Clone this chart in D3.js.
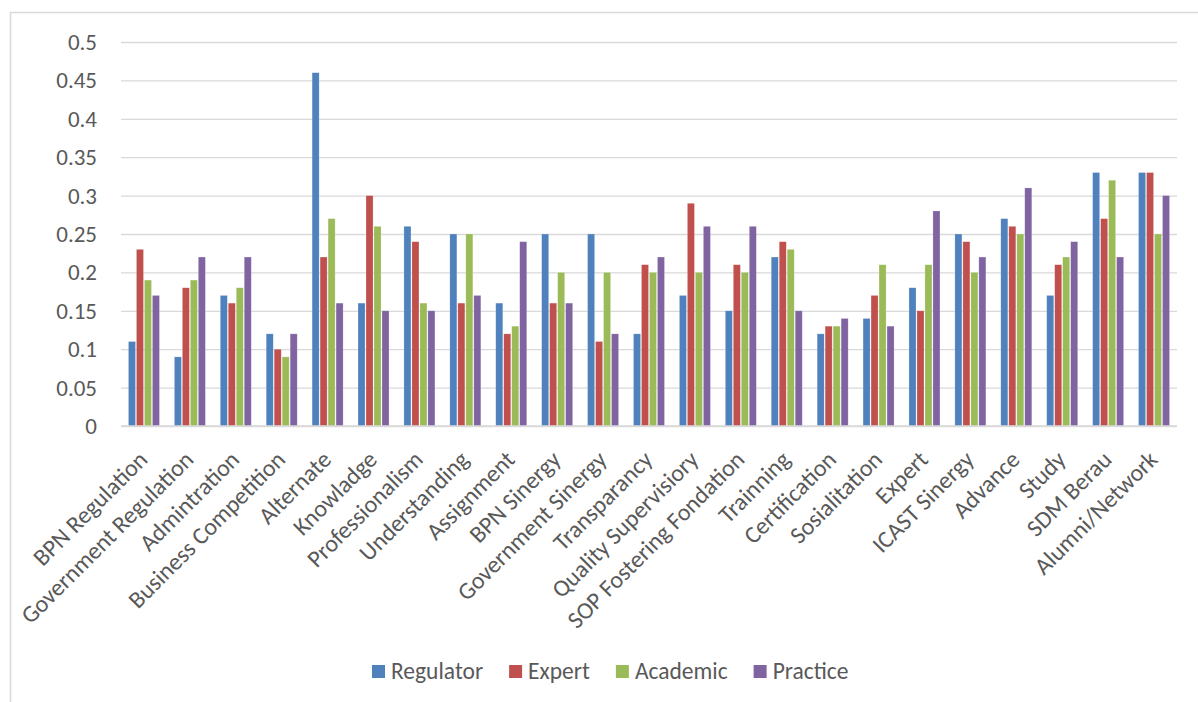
<!DOCTYPE html>
<html>
<head>
<meta charset="utf-8">
<script src="https://cdn.jsdelivr.net/npm/d3@7"></script>
<style>
  html, body { margin: 0; padding: 0; background: #fff; }
  svg { display: block; }
  text { font-family: Carlito, Lato, "Open Sans", sans-serif; fill: #595959; }
</style>
</head>
<body>
<svg id="chart" width="1198" height="702"></svg>
<script>
const categories = ["BPN Regulation", "Government Regulation", "Admintration", "Business Competition",
  "Alternate", "Knowladge", "Professionalism", "Understanding", "Assignment", "BPN Sinergy",
  "Government Sinergy", "Transparancy", "Quality Supervisiory", "SOP Fostering Fondation",
  "Trainning", "Certification", "Sosialitation", "Expert", "ICAST Sinergy", "Advance",
  "Study", "SDM Berau", "Alumni/Network"];
const seriesNames = ["Regulator", "Expert", "Academic", "Practice"];
const regulator = [0.11, 0.09, 0.17, 0.12, 0.46, 0.16, 0.26, 0.25, 0.16, 0.25, 0.25, 0.12, 0.17, 0.15, 0.22, 0.12, 0.14, 0.18, 0.25, 0.27, 0.17, 0.33, 0.33];
const expert    = [0.23, 0.18, 0.16, 0.10, 0.22, 0.30, 0.24, 0.16, 0.12, 0.16, 0.11, 0.21, 0.29, 0.21, 0.24, 0.13, 0.17, 0.15, 0.24, 0.26, 0.21, 0.27, 0.33];
const academic  = [0.19, 0.19, 0.18, 0.09, 0.27, 0.26, 0.16, 0.25, 0.13, 0.20, 0.20, 0.20, 0.20, 0.20, 0.23, 0.13, 0.21, 0.21, 0.20, 0.25, 0.22, 0.32, 0.25];
const practice  = [0.17, 0.22, 0.22, 0.12, 0.16, 0.15, 0.15, 0.17, 0.24, 0.16, 0.12, 0.22, 0.26, 0.26, 0.15, 0.14, 0.13, 0.28, 0.22, 0.31, 0.24, 0.22, 0.30];
const yTicks = [0, 0.05, 0.1, 0.15, 0.2, 0.25, 0.3, 0.35, 0.4, 0.45, 0.5];
const colors = ["#4F81BD", "#C0504D", "#9BBB59", "#8064A2"];

const seriesValues = [regulator, expert, academic, practice];
const rows = categories.map((c, i) => ({
  category: c,
  values: seriesNames.map((s, j) => ({ series: s, value: seriesValues[j][i] }))
}));

const svg = d3.select("#chart");
const plot = { left: 121, right: 1177, top: 42, bottom: 426 };

// outer frame (top and left edges visible)
svg.append("line").attr("x1", 10).attr("x2", 1198).attr("y1", 12.5).attr("y2", 12.5)
  .attr("stroke", "#d9d9d9").attr("stroke-width", 1.5);
svg.append("line").attr("x1", 10.5).attr("x2", 10.5).attr("y1", 12).attr("y2", 702)
  .attr("stroke", "#d9d9d9").attr("stroke-width", 1.5);

const x0 = d3.scaleBand().domain(categories).range([plot.left, plot.right])
  .paddingInner(0.325).paddingOuter(0.1625);
const x1 = d3.scaleBand().domain(seriesNames).range([0, x0.bandwidth()]).paddingInner(0.12);
const y = d3.scaleLinear().domain([0, 0.5]).range([plot.bottom, plot.top]);
const color = d3.scaleOrdinal().domain(seriesNames).range(colors);

// gridlines
const yAxis = d3.axisLeft(y).tickValues(yTicks).tickSize(-(plot.right - plot.left))
  .tickPadding(24).tickFormat(d => d3.format("")(+d.toFixed(2)));
const gy = svg.append("g").attr("transform", `translate(${plot.left},0)`).call(yAxis);
gy.select(".domain").remove();
gy.selectAll(".tick line").attr("stroke", "#d9d9d9").attr("stroke-width", 1.3);
gy.selectAll(".tick text").attr("font-size", 23).attr("fill", "#595959").attr("dy", "0.33em");

// bars
const groups = svg.append("g").selectAll("g").data(rows).join("g")
  .attr("transform", d => `translate(${x0(d.category)},0)`);
groups.selectAll("rect").data(d => d.values).join("rect")
  .attr("x", d => x1(d.series))
  .attr("y", d => y(d.value))
  .attr("width", x1.bandwidth())
  .attr("height", d => y(0) - y(d.value))
  .attr("fill", d => color(d.series))
  .attr("stroke", "#ffffff").attr("stroke-opacity", 0.35).attr("stroke-width", 0.6);

// baseline
svg.append("line").attr("x1", plot.left).attr("x2", plot.right)
  .attr("y1", y(0)).attr("y2", y(0)).attr("stroke", "#d9d9d9").attr("stroke-width", 1.3);

// x labels
const xAxis = d3.axisBottom(x0).tickSize(0).tickPadding(0);
const gx = svg.append("g").attr("transform", `translate(0,${plot.bottom})`).call(xAxis);
gx.select(".domain").remove();
gx.selectAll(".tick text")
  .attr("font-size", 24).attr("fill", "#595959")
  .attr("text-anchor", "end").attr("dy", null).attr("y", null)
  .attr("transform", "translate(5,35) rotate(-45)");

// legend
const legend = svg.append("g");
let lx = 372;
seriesNames.forEach((s, i) => {
  legend.append("rect").attr("x", lx).attr("y", 665).attr("width", 13).attr("height", 13)
    .attr("fill", colors[i]);
  const t = legend.append("text").attr("x", lx + 19).attr("y", 679)
    .attr("font-size", 23.5).attr("fill", "#595959").text(s);
  lx = lx + 19 + t.node().getComputedTextLength() + 26;
});
</script>
</body>
</html>
